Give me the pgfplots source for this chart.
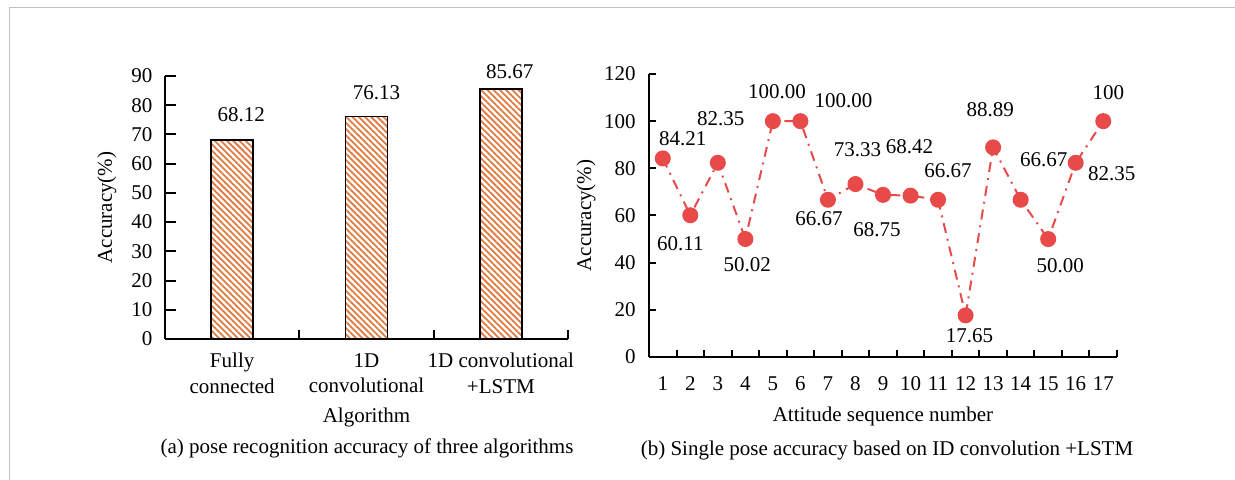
\documentclass[border=0pt]{standalone}
\usepackage{fontspec}
\setmainfont{Liberation Serif}
\usepackage{pgfplots}
\pgfplotsset{compat=1.18}
\usepackage{pgfplotstable}
\usetikzlibrary{patterns.meta}

\definecolor{hatch}{RGB}{224,122,64}
\definecolor{pointred}{RGB}{232,74,74}
\definecolor{framegray}{RGB}{192,192,192}

% accuracy of the three algorithms; dx/dy place the value labels
\pgfplotstableread{
x y lbl dx dy
1 68.12 68.12 4.5 12.5
2 76.13 76.13 5 12
3 85.67 85.67 4.5 8.5
}\algtable

% per-pose accuracy of 1D convolution + LSTM
\pgfplotstableread{
x y lbl dx dy
1 84.21 84.21 10 10
2 60.11 60.11 -5 -14
3 82.35 82.35 1.5 22
4 50.02 50.02 1 -13
5 100 100.00 2 14.5
6 100 100.00 21.5 10
7 66.67 66.67 -4.5 -9.5
8 73.33 73.33 1 17
9 68.75 68.75 -3 -17.5
10 68.42 68.42 -0.5 24.5
11 66.67 66.67 5 14.5
12 17.65 17.65 2 -10
13 88.89 88.89 -1.5 19
14 66.67 66.67 11.5 20
15 50.00 50.00 6 -13.5
16 82.35 82.35 18 -5.5
17 100 100 2.5 14.5
}\posetable

\pgfplotsset{
  panel/.style={
    scale only axis,
    axis lines=left,
    axis line style={-, line width=1.3pt, black},
    tick style={black, line width=1pt},
    tick align=inside,
    clip=false,
    enlargelimits=false,
    /pgf/number format/assume math mode=true,
    major x tick style={draw=none},
    xlabel style={anchor=center},
    ylabel style={anchor=center},
  },
}

\begin{document}
\fontsize{10.5pt}{12.6pt}\selectfont
\begin{tikzpicture}
\useasboundingbox (0pt,0pt) rectangle (617.5pt,240pt);
\draw[framegray, line width=0.75pt] (4.75pt,0pt) -- (4.75pt,236.25pt) -- (617.5pt,236.25pt);

% (a) bar chart
\begin{axis}[panel,
  at={(82.5pt,70.5pt)}, anchor=south west,
  width=201.5pt, height=131.5pt,
  xmin=0.5, xmax=3.5, ymin=0, ymax=90,
  ytick={0,10,...,90},
  xtick={1,2,3},
  xticklabels={{Fully\\connected},{1D\\convolutional},{1D convolutional\\+LSTM}},
  xticklabel style={align=center, yshift=-3.5pt},
  yticklabel style={xshift=-2.6pt},
  minor xtick={0.5,1.5,2.5,3.5},
  major tick length=5.5pt, minor tick length=4.5pt,
  xlabel={Algorithm},
  xlabel style={at={(axis description cs:0.5,-0.2966)}},
  ylabel={Accuracy(\%)},
  ylabel style={at={(axis description cs:-0.144,0.5)}},
]
\addplot[ybar, bar width=21pt, draw=black, line width=0.9pt,
  pattern={Lines[angle=-45,distance=2.2pt,line width=0.9pt]}, pattern color=hatch,
  nodes near coords, point meta=explicit symbolic,
  visualization depends on={\thisrow{dx}\as\mydx},
  visualization depends on={\thisrow{dy}\as\mydy},
  every node near coord/.append style={anchor=center, text=black, xshift=\mydx pt, yshift=\mydy pt},
] table[x=x, y=y, meta=lbl] {\algtable};
\end{axis}

% (b) line chart
\begin{axis}[panel,
  at={(324.5pt,61.5pt)}, anchor=south west,
  width=234pt, height=141.5pt,
  xmin=0.5, xmax=17.5, ymin=0, ymax=120,
  ytick={0,20,...,120},
  xtick={1,...,17},
  minor xtick={1.5,2.5,...,17.5},
  major tick length=3.7pt, minor tick length=3.5pt,
  xticklabel style={yshift=-6pt},
  yticklabel style={xshift=-3pt},
  xlabel={Attitude sequence number},
  xlabel style={at={(axis description cs:0.5,-0.2085)}},
  ylabel={Accuracy(\%)},
  ylabel style={at={(axis description cs:-0.1346,0.5)}},
]
\addplot[color=pointred, line width=1pt,
  dash pattern=on 5pt off 3pt on 1pt off 3pt,
  mark=*, mark size=3.5pt, mark options={solid, fill=pointred, draw=pointred},
  nodes near coords, point meta=explicit symbolic,
  visualization depends on={\thisrow{dx}\as\mydx},
  visualization depends on={\thisrow{dy}\as\mydy},
  every node near coord/.append style={anchor=center, text=black, xshift=\mydx pt, yshift=\mydy pt},
] table[x=x, y=y, meta=lbl] {\posetable};
\end{axis}

\node at (183.5pt,16pt) {(a) pose recognition accuracy of three algorithms};
\node at (443.5pt,15pt) {(b) Single pose accuracy based on ID convolution +LSTM};
\end{tikzpicture}
\end{document}
